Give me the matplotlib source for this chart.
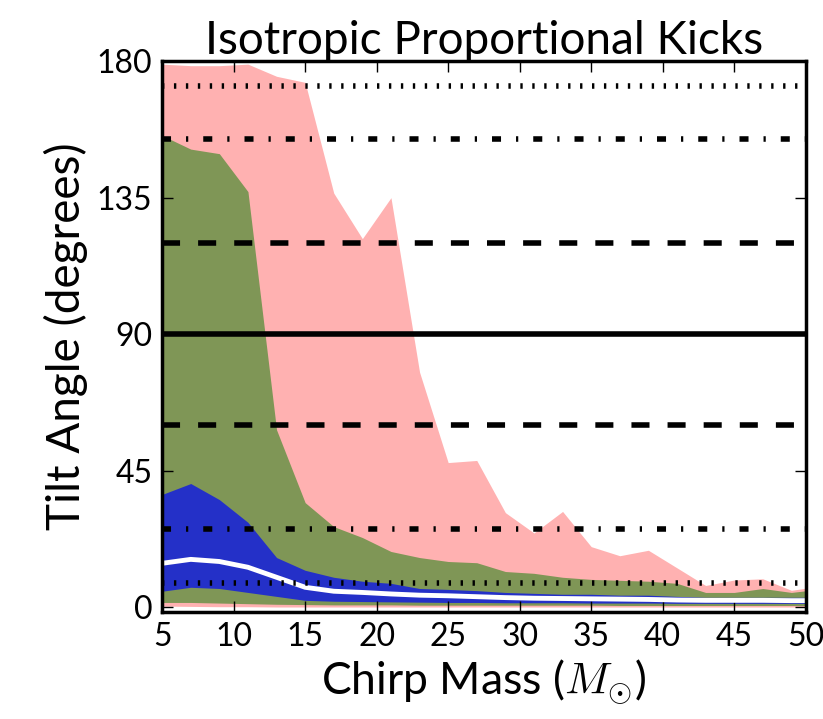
import numpy as np
import matplotlib
matplotlib.use('Agg')
import matplotlib.pyplot as plt

plt.rcParams['font.family'] = ['Lato', 'DejaVu Sans']
plt.rcParams['mathtext.fontset'] = 'cm'
plt.rcParams['lines.scale_dashes'] = False

# chirp mass grid and tilt angle percentiles (degrees)
mass = [5, 7, 9, 11, 13, 15, 17, 19, 21, 23, 25, 27, 29, 31, 33, 35, 37, 39, 41, 43, 45, 47, 49, 51]
pink_hi = [179, 178.5, 178.5, 179, 175, 173, 136.5, 121.5, 135, 77.5, 47.7, 48.4, 31.2, 24.5,
           31.6, 20, 17, 18.8, 13, 7.2, 9, 9.4, 5.6, 7]
green_hi = [155.5, 151, 149.5, 137, 58.5, 34.5, 26.6, 23, 18.4, 16.4, 15.1, 14.7, 11.8, 11.2,
            9.9, 9.2, 8.9, 8.6, 7.9, 4.9, 4.9, 6.2, 4.9, 6]
blue_hi = [37.2, 40.8, 35.5, 28, 16.4, 12.2, 9.9, 8.6, 7.9, 6.2, 5.9, 5.5, 4.9, 4.6,
           4.3, 4.3, 4.0, 4.0, 3.6, 3.3, 3.3, 3.3, 3.3, 3.3]
median = [14.5, 15.8, 15.1, 13.2, 9.9, 6.6, 5.3, 4.9, 4.4, 4.0, 3.8, 3.5, 3.2, 3.0,
          2.9, 2.8, 2.7, 2.6, 2.4, 2.3, 2.3, 2.3, 2.2, 2.2]
blue_lo = [5.3, 6.6, 6.2, 4.9, 3.6, 2.3, 2.0, 1.9, 1.8, 1.7, 1.6, 1.6, 1.5, 1.5,
           1.5, 1.4, 1.4, 1.4, 1.3, 1.3, 1.3, 1.3, 1.3, 1.3]
green_lo = [1.6, 1.6, 1.4, 1.2, 1.0, 0.9, 0.8, 0.8, 0.8, 0.7, 0.7, 0.7, 0.7, 0.7,
            0.7, 0.7, 0.6, 0.6, 0.6, 0.6, 0.6, 0.6, 0.6, 0.6]
pink_lo = [0.4, 0.3, 0.2, 0.2, 0.1, 0.1, 0.1, 0.1, 0.1, 0.1, 0.1, 0.1, 0.1, 0.1,
           0.1, 0.1, 0.1, 0.1, 0.1, 0.1, 0.1, 0.1, 0.1, 0.1]

# isotropic reference angles
iso_angles = [90, 60, 120, 25.8, 154.2, 8.1, 171.9]
iso_styles = ['solid', 'dashed', 'dashed', 'dashdot', 'dashdot', 'dotted', 'dotted']
dash_map = {'dashed': (13, 13), 'dashdot': (6.5, 10.8, 1.6, 10.8), 'dotted': (1.7, 6.9)}

fig = plt.figure(figsize=(8.23, 7.19), dpi=100)
ax = fig.add_axes([0.197, 0.149, 0.782, 0.766])

ax.fill_between(mass, pink_lo, pink_hi, color='#ffb1b1', lw=0)
ax.fill_between(mass, green_lo, green_hi, color='#7f9656', lw=0)
ax.fill_between(mass, blue_lo, blue_hi, color='#2430c8', lw=0)
ax.plot(mass, median, color='white', lw=3.5)

for a, s in zip(iso_angles, iso_styles):
    if s == 'solid':
        ax.axhline(a, color='k', lw=4)
    else:
        ax.axhline(a, color='k', lw=4, dashes=dash_map[s])

ax.set_xlim(5, 50)
ax.set_ylim(-1.5, 180)
ax.set_xticks(range(5, 51, 5))
ax.set_yticks([0, 45, 90, 135, 180])
ax.tick_params(direction='in', length=8, width=1, top=True, right=True,
               labelsize=23, pad=7)
for sp in ax.spines.values():
    sp.set_linewidth(2.5)

ax.set_title('Isotropic Proportional Kicks', fontsize=33, pad=5)
ax.set_xlabel(r'Chirp Mass ($M_{\odot}$)', fontsize=32, labelpad=4)
ax.set_ylabel('Tilt Angle (degrees)', fontsize=33, labelpad=6)

fig.savefig('out.png', dpi=100)
